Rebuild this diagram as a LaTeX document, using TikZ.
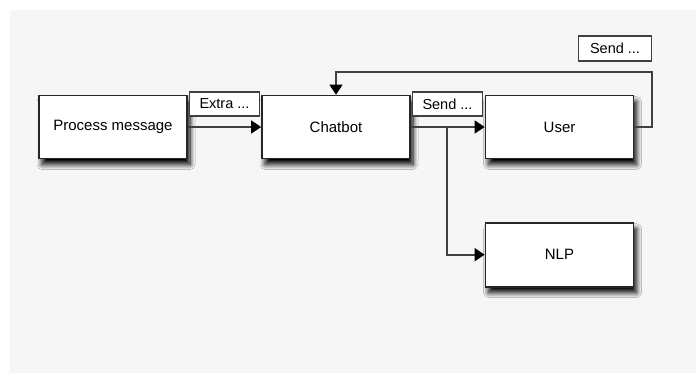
\documentclass[tikz,border=0pt]{standalone}
\usepackage{fontspec}
\setmainfont{Liberation Sans}
\usetikzlibrary{arrows.meta,shadows.blur}
\definecolor{panel}{rgb}{.965,.965,.965}
\definecolor{edge}{rgb}{.15,.15,.15}
\definecolor{wire}{rgb}{.25,.25,.25}

\begin{document}
\begin{tikzpicture}[x=1pt, y=-1pt,
	block/.style={draw=edge, line width=1.7pt, fill=white, minimum width=148pt, minimum height=63pt, font=\fontsize{15}{16}\selectfont, blur shadow={shadow xshift=3pt, shadow yshift=-6pt, shadow blur steps=10, shadow blur radius=5pt, shadow opacity=100}},
	tag/.style={draw=wire, line width=1.5pt, fill=white, minimum width=70pt, minimum height=24pt, inner sep=0pt, font=\fontsize{14.5}{16}\selectfont},
	link/.style={draw=wire, line width=1.7pt, -{Triangle[length=10pt,width=13pt,color=black]}}]
	
	\useasboundingbox (0,0) rectangle (696,373);
	\fill[white] (0,0) rectangle (696,373);
	\fill[panel] (10,10) rectangle (696,373);
	
	\node[block] (process) at (113,127) {Process message};
	\node[block] (chatbot) at (336,127) {Chatbot};
	\node[block] (user) at (559.5,127) {User};
	\node[block, minimum height=64pt] (nlp) at (559.5,254.7) {NLP};
	
	\node[tag] (extra) at (224.5,104) {Extra ...};
	\node[tag] (send) at (447.5,104) {Send ...};
	\node[tag, minimum width=73pt, minimum height=25pt] (sendback) at (615,48.5) {Send ...};
	
	\coordinate (branch) at (447,127);
	\coordinate (loop) at (652,127);
	
	\draw[link] (process) -- (chatbot);
	\draw[link] (chatbot) -- (user);
	\draw[link] (branch) |- (nlp.west);
	\draw[link] (user.east) -- (loop) |- ([yshift=23pt]chatbot.north) -- (chatbot.north);
	
\end{tikzpicture}
\end{document}
